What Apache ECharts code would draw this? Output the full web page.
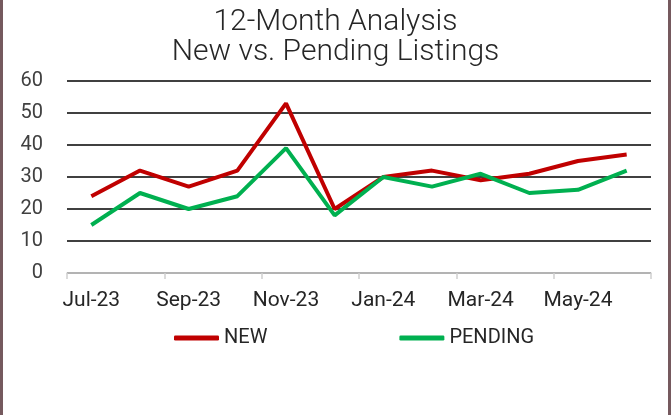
<!DOCTYPE html>
<html>
<head>
<meta charset="utf-8">
<script src="https://cdn.jsdelivr.net/npm/echarts@6/dist/echarts.min.js"></script>
<style>
  html, body { margin: 0; padding: 0; background: #fff; }
  #frame {
    width: 665px; height: 415px;
    border-left: 3px solid #75595e;
    border-right: 3px solid #75595e;
  }
  #chart { width: 665px; height: 415px; }
</style>
</head>
<body>
<div id="frame"><div id="chart"></div></div>
<script>
// months (x axis)
const months = ["Jul-23", "Aug-23", "Sep-23", "Oct-23", "Nov-23", "Dec-23",
  "Jan-24", "Feb-24", "Mar-24", "Apr-24", "May-24", "Jun-24"];
// new listings
const newListings = [24, 32, 27, 32, 53, 20, 30, 32, 29, 31, 35, 37];
// pending listings
const pendingListings = [15, 25, 20, 24, 39, 18, 30, 27, 31, 25, 26, 32];

const fontFam = "Roboto, 'Noto Sans', sans-serif";
const chart = echarts.init(document.getElementById("chart"));
const option = {
  animation: false,
  title: {
    text: "12-Month Analysis\nNew vs. Pending Listings",
    left: "center",
    top: 2,
    padding: [5, 10, 5, 0],
    textStyle: {
      fontFamily: fontFam,
      fontWeight: 300,
      fontSize: 30,
      lineHeight: 30,
      color: "#262626",
    },
  },
  legend: {
    data: ["NEW", "PENDING"],
    left: 166,
    top: 323,
    itemGap: 132,
    itemWidth: 45,
    itemHeight: 5,
    icon: "roundRect",
    textStyle: { fontFamily: fontFam, fontSize: 20, color: "#262626" },
  },
  grid: { left: 64, right: 17, top: 81, bottom: 142 },
  xAxis: {
    type: "category",
    data: months,
    boundaryGap: true,
    axisLine: { lineStyle: { color: "#d9d9d9", width: 1.5 } },
    axisTick: { show: true, interval: 1, length: 6, lineStyle: { color: "#d0d0d0", width: 1.5 } },
    axisLabel: {
      interval: 1,
      margin: 17,
      fontFamily: fontFam,
      fontSize: 21,
      color: "#262626",
    },
  },
  yAxis: {
    type: "value",
    min: 0,
    max: 60,
    interval: 10,
    axisLine: { show: false },
    axisTick: { show: false },
    axisLabel: { margin: 24, fontFamily: fontFam, fontSize: 20, color: "#404040" },
    splitLine: { lineStyle: { color: "#000", width: 1.5 } },
  },
  series: [
    {
      name: "NEW",
      type: "line",
      data: newListings,
      symbol: "none",
      color: "#c00000",
      lineStyle: { width: 4, color: "#c00000" },
    },
    {
      name: "PENDING",
      type: "line",
      data: pendingListings,
      symbol: "none",
      color: "#00b050",
      lineStyle: { width: 4, color: "#00b050" },
    },
  ],
};
chart.setOption(option);
</script>
</body>
</html>
